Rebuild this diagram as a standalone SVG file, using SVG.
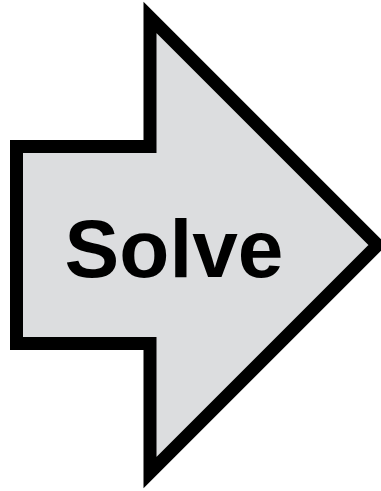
<svg xmlns="http://www.w3.org/2000/svg" width="381" height="491" viewBox="0 0 381 491">
<style>
.arrow{fill:#dcdddf;stroke:#000;stroke-width:13;stroke-linejoin:miter;stroke-miterlimit:10}
.label{font-family:"Liberation Sans",Arial,Helvetica,sans-serif;font-weight:bold;font-size:82px;fill:#000}
</style>
<rect width="381" height="491" fill="#fff"/>
<g id="solve-arrow">
<polygon class="arrow" points="16.5,146.5 150,146.5 150,17.5 377.5,245 150,472.5 150,343.5 16.5,343.5"/>
<text class="label" x="174" y="277" text-anchor="middle">Solve</text>
</g>
<g id="connectors"></g>
</svg>
